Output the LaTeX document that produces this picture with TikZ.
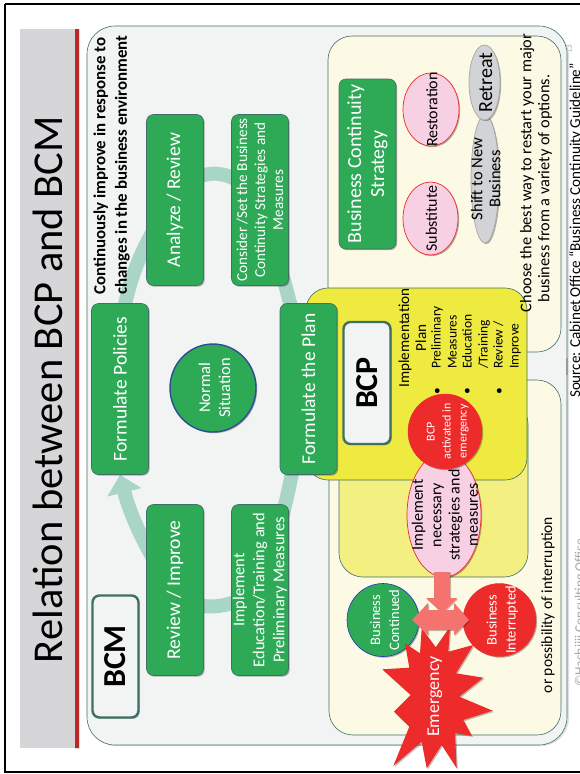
\documentclass[tikz,border=0pt]{standalone}
\usepackage{fontspec}
\setmainfont{Carlito}
\usetikzlibrary{shapes.geometric,shadows,arrows.meta,calc}
\definecolor{gn}{HTML}{2EAA57}
\definecolor{gnline}{HTML}{3F6F66}
\definecolor{rd}{HTML}{EE2B2B}
\definecolor{pk}{HTML}{F8D0E3}
\definecolor{gy}{HTML}{D2D3D6}
\definecolor{band}{HTML}{D6D6D9}
\definecolor{strip}{HTML}{B82A2A}
\definecolor{cream}{HTML}{FCF9E4}
\definecolor{ybright}{HTML}{EEEA3F}
\definecolor{ypale}{HTML}{F3EF80}
\definecolor{ringc}{HTML}{A9D5C7}
\definecolor{arrc}{HTML}{F4736E}
\definecolor{pagebg}{HTML}{F2F4F4}
\newcommand\fz[2]{\fontsize{#1}{#2}\selectfont}
\newcommand\tc[1]{\smash{\makebox[0pt]{\raisebox{-.5\height}{\begin{tabular}[b]{@{}c@{}}#1\end{tabular}}}}}
\pgfdeclarelayer{backl}
\pgfdeclarelayer{ringl}
\pgfsetlayers{backl,ringl,main}
\tikzset{
 softshadow/.style={drop shadow={shadow xshift=1.2pt,shadow yshift=-1.2pt,opacity=.3,fill=black}},
 gbox/.style={rotate=90,rectangle,rounded corners=7pt,fill=gn,draw=gnline,line width=.6pt,text=white,align=center,minimum width=171pt,minimum height=57pt,inner sep=0pt,softshadow},
 labelbox/.style={rotate=90,rectangle,rounded corners=7pt,fill=pagebg,draw=gnline,line width=2.4pt,text=black,font=\bfseries\fz{32}{34},inner sep=0pt,softshadow},
 panel/.style={draw=gnline,line width=.6pt,rounded corners=24pt},
 txt/.style={rotate=90,text=black,inner sep=0pt,align=center},
 ltxt/.style={rotate=90,text=black,inner sep=0pt,align=left,anchor=north west},
 ring/.style={draw=ringc,line width=14pt,line cap=butt},
 pinkell/.style={rotate=90,ellipse,fill=pk,draw=rd,line width=.7pt,inner sep=0pt,text=black,softshadow},
 greyell/.style={rotate=90,ellipse,fill=gy,draw=black!35,line width=.7pt,inner sep=0pt,text=black,softshadow},
 redc/.style={rotate=90,ellipse,fill=rd,draw=rd,inner sep=0pt,text=white,softshadow},
 greenc/.style={rotate=90,ellipse,fill=gn,inner sep=0pt,text=white,softshadow},
 blockarrow/.style={fill=arrc,draw=none,drop shadow={shadow xshift=1pt,shadow yshift=-1pt,opacity=.25,fill=black}},
}
\begin{document}
\begin{tikzpicture}[x=1pt,y=-1pt]
\useasboundingbox (0,0) rectangle (579,774);
\begin{pgfonlayer}{backl}
\fill[white] (0,0) rectangle (579,774);
\draw[black,line width=1.8pt] (5,4) -- (592,4) (5,4) -- (5,772) -- (592,772);
\fill[band] (20,29) rectangle (75,748);
\fill[black!12] (75,29) rectangle (80,749);
\fill[strip] (75,29) rectangle (79,748);
\fill[black!12] (88,28) [rounded corners=28pt] rectangle (569,746);
\draw[fill=pagebg,draw=gnline,line width=.6pt,rounded corners=28pt] (87,26) rectangle (567,745);
\draw[panel,fill=cream] (328,36) rectangle (561,352);
\draw[panel,fill=cream] (329,380) rectangle (561,735);
\end{pgfonlayer}
% title
\node[txt,font=\fz{42.5}{44}] (title) at (48,389.5) {Relation between BCP and BCM};
% pale and bright yellow panels
\draw[panel,fill=ypale] (339,400) rectangle (528,577);
\draw[panel,fill=ybright,rounded corners=22pt] (306,288) rectangle (527,480);
% green boxes
\node[gbox,font=\fz{19.5}{20}] (rev) at (175,590) {Review / Improve};
\node[gbox,font=\fz{16.5}{20}] (imp) at (260,590) {Implement\\Education/Training and\\Preliminary Measures};
\node[gbox,font=\fz{19.5}{20}] (pol) at (120,389) {Formulate Policies};
\node[gbox,font=\fz{19.5}{20}] (plan) at (308.5,389) {Formulate the Plan};
\node[gbox,font=\fz{19.5}{20}] (ana) at (175,200) {Analyze / Review};
\node[gbox,font=\fz{15.2}{18}] (con) at (260,200) {Consider /Set the Business\\Continuity Strategies and\\Measures};
\node[greenc,draw=blue!30!gnline,line width=1.4pt,minimum width=88pt,minimum height=86pt,font=\fz{16.5}{20}] (norm) at (213,388) {\tc{Normal\\Situation}};
\node[labelbox,minimum width=122pt,minimum height=46pt] (bcm) at (115.5,656.5) {BCM};
\node[labelbox,minimum width=122pt,minimum height=47pt] (bcp) at (367,383) {BCP};
\node[gbox,minimum width=170pt,font=\fz{20}{23}] (bcs) at (367.5,164) {Business Continuity\\Strategy};
% ring connectors
\begin{pgfonlayer}{ringl}
\draw[ring,-{Triangle[length=18pt,width=34pt]}] (rev.center) .. controls (150,560) and (130,515) .. (pol.west);
\draw[ring] (imp.center) .. controls (235,605) and (200,618) .. (rev.center);
\draw[ring] (plan.center) .. controls (296,430) and (298,480) .. (imp.center);
\draw[ring] (con.center) .. controls (275,250) and (295,310) .. (plan.center);
\draw[ring] (ana.center) .. controls (200,160) and (235,170) .. (con.center);
\draw[ring] (pol.center) .. controls (115,320) and (130,255) .. (ana.center);
\end{pgfonlayer}
\node[txt,align=left,font=\bfseries\fz{16.9}{21.5}] (cont) at (111.5,165) {Continuously improve in response to\\changes in the business environment};
% strategy ellipses
\node[pinkell,minimum width=73pt,minimum height=56pt,font=\fz{16}{18}] (rest) at (431,109.5) {\tc{Restoration}};
\node[pinkell,minimum width=73pt,minimum height=55pt,font=\fz{16}{18}] (subs) at (430.5,218.5) {\tc{Substitute}};
\node[greyell,minimum width=128pt,minimum height=28pt,font=\fz{16.5}{18}] (shift) at (485,179) {\tc{Shift to New\\Business}};
\node[greyell,minimum width=75pt,minimum height=31pt,font=\fz{20}{22}] (retr) at (484.5,82.5) {\tc{Retreat}};
\node[txt,align=left,font=\fz{16.3}{18}] (choose) at (536,173) {Choose the best way to restart your major\\\hspace*{10pt}business from a variety of options.};
% BCP contents
\node[txt,font=\fz{15.2}{17}] (iplan) at (412.5,338) {Implementation\\Plan};
\node[ltxt,font=\fz{13.5}{16}] (b1) at (431,369) {Preliminary\\Measures};
\node[ltxt,font=\fz{13.5}{16}] (b2) at (462,369) {Education\\/Training};
\node[ltxt,font=\fz{13.5}{16}] (b3) at (493,369) {Review /\\Improve};
\node[txt,font=\fz{13.5}{15}] (d1) at (438,391) {•};
\node[txt,font=\fz{13.5}{15}] (d2) at (468,391) {•};
\node[txt,font=\fz{13.5}{15}] (d3) at (500,391) {•};
% BCP emergency
\node[pinkell,minimum width=124pt,minimum height=74pt,font=\fz{16}{18.3}] (impl) at (444,515) {\tc{Implement\\necessary\\strategies and\\measures}};
\node[redc,minimum width=75pt,minimum height=74pt,font=\fz{12}{16}] (act) at (445,431.5) {\tc{BCP\\activated in\\emergency}};
\node[greenc,draw=blue!50!gnline,line width=.6pt,minimum width=73pt,minimum height=72pt,font=\fz{14.5}{19}] (cont2) at (383,620) {\tc{Business\\Continued}};
\node[redc,minimum width=73pt,minimum height=73pt,font=\fz{14.5}{19}] (intr) at (499.5,620) {\tc{Business\\Interrupted}};
% star
\fill[rd,drop shadow={shadow xshift=1.2pt,shadow yshift=-1.2pt,opacity=.25,fill=black}] (405,643.3)--(420,653.3)--(421.7,628.3)--(435.7,647.3)--(450,626.7)--(448.3,651.7)--(473.3,645)--(456,673.3)--(483.3,677.7)--(459.3,696.7)--(492.7,710.7)--(463.3,720)--(471.7,735.7)--(455,733.3)--(456.7,768.3)--(441.7,745)--(426.7,768.3)--(421.7,741.7)--(393.3,766)--(409.3,726.7)--(394,711.7)--(410.7,695)--(382.3,669.3)--(409.3,667.7)--cycle;
\node[txt,text=white,font=\fz{18}{20}] (emer) at (435,696.5) {Emergency};
% block arrows
\coordinate (dntip) at (442,613);
\fill[blockarrow] (434,572) -- (450,572) -- (450,598) -- (457,598) -- (dntip) -- (426,598) -- (434,598) -- cycle;
\fill[blockarrow] (412,620) -- (428,603) -- (428,610) -- (454,610) -- (454,603) -- (469,620) -- (454,635) -- (454,630) -- (428,630) -- (428,635) -- cycle;
% other text
\node[txt,font=\fz{15.5}{19}] (poss) at (548,605) {or possibility of interruption};
\node[rotate=90,anchor=base,inner sep=0pt,font=\fz{15.1}{17}] (src) at (580,230.5) {Source: Cabinet Office “Business Continuity Guideline”};
\node[rotate=90,anchor=base,inner sep=0pt,text=black!35,font=\fz{13.5}{15}] (copy) at (584,613) {©Hachijii Consulting Office};
\node[rotate=90,inner sep=0pt,text=black!30,font=\fz{9}{10}] (pg) at (569,49) {13};
\fill[black!40] (566,358) rectangle (568,375);
\end{tikzpicture}
\end{document}
